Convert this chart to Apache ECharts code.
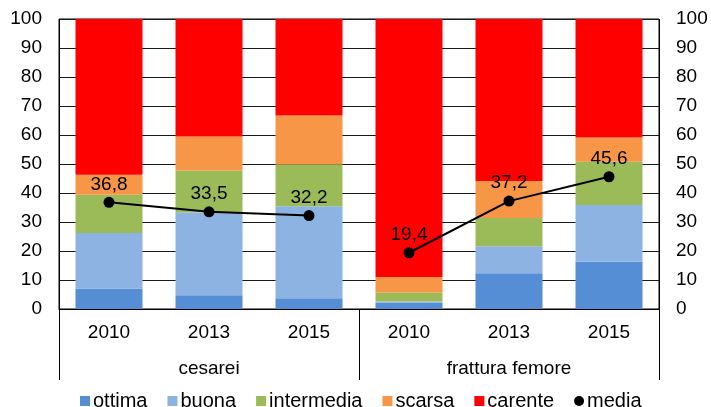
<!DOCTYPE html>
<html>
<head>
<meta charset="utf-8">
<script src="https://cdn.jsdelivr.net/npm/echarts@6/dist/echarts.min.js"></script>
<style>
  html, body { margin: 0; padding: 0; background: #fff; }
  #chart { width: 711px; height: 407px; }
</style>
</head>
<body>
<div id="chart"></div>
<script>
// dati
var anni = ['2010', '2013', '2015', '2010', '2013', '2015'];
var gruppi = ['cesarei', 'frattura femore'];
var ottima = [7.1, 4.7, 3.7, 2.2, 12.3, 16.3];
var buona = [19.1, 28.6, 31.7, 0.4, 9.3, 19.6];
var intermedia = [13.2, 14.5, 14.4, 3.1, 9.8, 14.9];
var scarsa = [6.9, 11.7, 16.9, 5.3, 12.7, 8.3];
var carente = [53.7, 40.5, 33.3, 89.0, 55.9, 40.9];
var mediaCesarei = [36.8, 33.5, 32.2, '-', '-', '-'];
var mediaFemore = ['-', '-', '-', 19.4, 37.2, 45.6];
var yTicks = [0, 100, 10];

var FONT = 'Liberation Sans, Arial, sans-serif';
var FS = 19;
var chart = echarts.init(document.getElementById('chart'));

function barra(nome, dati, colore) {
	return {
		name: nome,
		type: 'bar',
		stack: 'tot',
		data: dati,
		barWidth: '67%',
		itemStyle: { color: colore },
		z: 2
	};
}

function linea(dati) {
	return {
		name: 'media',
		type: 'line',
		data: dati,
		symbol: 'circle',
		symbolSize: 11,
		connectNulls: false,
		lineStyle: { color: '#000', width: 2 },
		itemStyle: { color: '#000' },
		label: {
			show: true,
			position: 'top',
			distance: 3,
			color: '#000',
			fontSize: FS,
			fontFamily: FONT,
			formatter: function (p) { return String(p.value).replace('.', ','); }
		},
		z: 5
	};
}

var yAxisBase = function (pos) {
	return {
		type: 'value',
		position: pos,
		min: yTicks[0],
		max: yTicks[1],
		interval: yTicks[2],
		axisLine: { show: false },
		axisTick: { show: false },
		splitLine: { show: pos === 'left', lineStyle: { color: '#1a1a1a', width: 1 } },
		axisLabel: { color: '#000', fontSize: FS, fontFamily: FONT, margin: 17 }
	};
};

chart.setOption({
	animation: false,
	backgroundColor: '#fff',
	color: ['#558ED5', '#8DB3E2', '#9BBB59', '#F79646', '#FF0000', '#000'],
	grid: {
		left: 59, right: 52, top: 19, bottom: 98,
		show: true, borderColor: '#000', borderWidth: 1, backgroundColor: 'transparent'
	},
	legend: {
		top: 391,
		left: 80,
		padding: 0,
		itemWidth: 10,
		itemHeight: 10,
		itemGap: 20,
		textStyle: { color: '#000', fontSize: 20, fontFamily: FONT, padding: [0, 0, 0, -2] },
		data: [
			{ name: 'ottima', icon: 'rect' },
			{ name: 'buona', icon: 'rect' },
			{ name: 'intermedia', icon: 'rect' },
			{ name: 'scarsa', icon: 'rect' },
			{ name: 'carente', icon: 'rect' },
			{ name: 'media', icon: 'circle' }
		]
	},
	xAxis: [
		{
			type: 'category',
			data: anni,
			position: 'bottom',
			axisLine: { show: true, lineStyle: { color: '#000' } },
			axisTick: { show: false },
			splitLine: {
				show: true,
				interval: function (i) { return i === 3; },
				lineStyle: { color: '#000' }
			},
			axisLabel: { color: '#000', fontSize: FS, fontFamily: FONT, margin: 14 }
		},
		{
			type: 'category',
			data: gruppi,
			position: 'bottom',
			axisLine: { show: false },
			axisTick: { show: true, length: 71, interval: 0, lineStyle: { color: '#000' } },
			axisLabel: { color: '#000', fontSize: FS, fontFamily: FONT, margin: 50, interval: 0 },
			splitLine: { show: false }
		}
	],
	yAxis: [yAxisBase('left'), yAxisBase('right')],
	series: [
		barra('ottima', ottima, '#558ED5'),
		barra('buona', buona, '#8DB3E2'),
		barra('intermedia', intermedia, '#9BBB59'),
		barra('scarsa', scarsa, '#F79646'),
		barra('carente', carente, '#FF0000'),
		linea(mediaCesarei),
		linea(mediaFemore)
	]
});
</script>
</body>
</html>
